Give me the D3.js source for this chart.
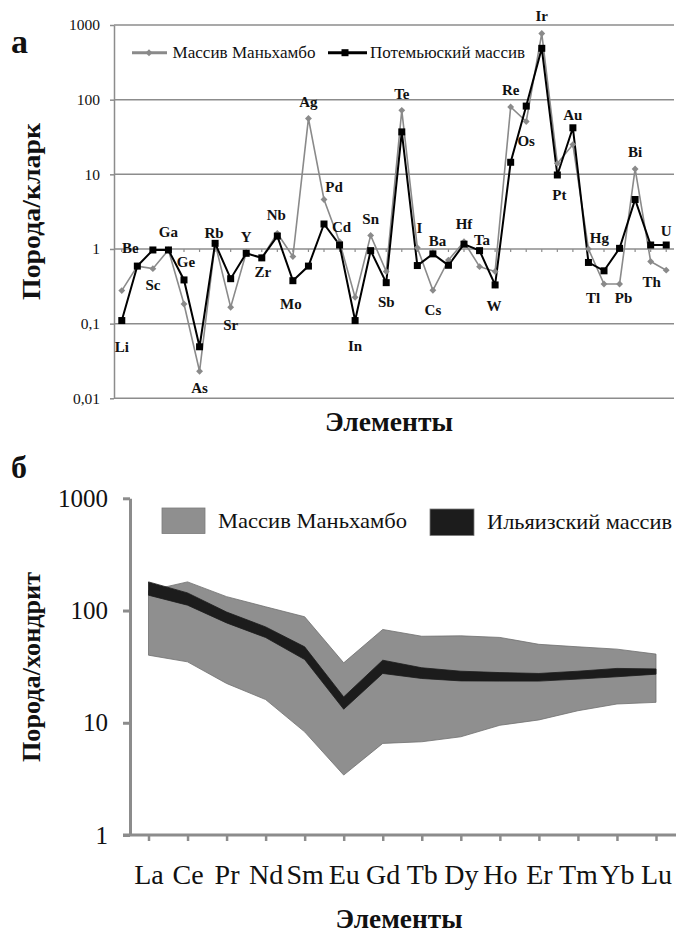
<!DOCTYPE html>
<html><head><meta charset="utf-8">
<script src="https://cdn.jsdelivr.net/npm/d3@7"></script>
<style>
body{margin:0;background:#fff}
svg{display:block}
text{font-family:"Liberation Serif","Times New Roman",serif;fill:#111}
</style>
</head><body><svg id="c" width="676" height="934"></svg>
<script>
// ---------- Panel а data ----------
const elementsA = ["Li","Be","Sc","Ga","Ge","As","Rb","Sr","Y","Zr","Nb","Mo","Ag","Pd","Cd","In","Sn","Sb","Te","I","Cs","Ba","Hf","Ta","W","Re","Os","Ir","Pt","Au","Hg","Tl","Pb","Bi","Th","U"];
const manhamboA = [0.277,0.59,0.545,0.97,0.183,0.023,1.19,0.166,0.89,0.76,1.62,0.79,56,4.6,1.25,0.225,1.52,0.50,72,1.04,0.28,0.71,1.25,0.58,0.50,80,51,770,14,25,1.0,0.34,0.34,11.8,0.68,0.52];
const potemA    = [0.11,0.59,0.97,0.97,0.385,0.049,1.19,0.40,0.875,0.76,1.49,0.376,0.59,2.16,1.13,0.11,0.95,0.354,37,0.60,0.86,0.605,1.16,0.95,0.33,14.5,82,487,9.8,42,0.66,0.51,1.02,4.6,1.13,1.13];
const tickValuesA = [0.01,0.1,1,10,100,1000];
const tickLabelsA = ["0,01","0,1","1","10","100","1000"];
const seriesNamesA = ["Массив Маньхамбо","Потемьюский массив"];
// label placement: element, above/below, offset y, offset x (annotation layout)
const labelPlaceA = [
 ["Li","b",31,0],["Be","a",-12.7,-7],["Sc","b",21.3,0],["Ga","a",-12.7,0],["Ge","a",-13.3,2],
 ["As","b",21.4,0],["Rb","a",-5,-1],["Sr","b",22.7,0],["Y","a",-11,0],["Zr","b",19.3,1],
 ["Nb","a",-13.3,-1],["Mo","b",28.7,-2],["Ag","a",-11,0],["Pd","a",-7.6,10],["Cd","a",-10,2],
 ["In","b",30,0],["Sn","a",-11.3,0],["Sb","b",24,0],["Te","a",-11,0],["I","a",-14.4,2],
 ["Cs","b",25,0],["Ba","a",-14,-11],["Hf","a",-12.7,0],["Ta","a",-5.7,2.5],["W","b",25.7,-1],
 ["Re","a",-11.7,0],["Os","b",25,0],["Ir","a",-12.3,0],["Pt","b",25,2],["Au","a",-7.7,0],
 ["Hg","a",-6,11],["Tl","b",19,-11],["Pb","b",19,4],["Bi","a",-12.3,0],["Th","b",26,1],["U","a",-9.3,0]
];

// ---------- Panel б data ----------
const elementsB = ["La","Ce","Pr","Nd","Sm","Eu","Gd","Tb","Dy","Ho","Er","Tm","Yb","Lu"];
const manhamboMinB = [40,34.9,22.4,16.1,8.3,3.42,6.55,6.77,7.5,9.5,10.6,12.8,14.7,15.2];
const manhamboMaxB = [150,180,133,108,88,34.2,67.8,59,59.5,57.6,50,47.5,45.3,40.9];
const ilyaMinB     = [137,111.6,77.6,57.5,36.6,13.2,27.5,24.8,23.6,23.5,23.5,24.5,25.7,27.1];
const ilyaMaxB     = [180,143.6,97,71.5,47.5,17,36.1,30.9,28.8,28,27.5,28.8,30.5,30.2];
const tickValuesB = [1,10,100,1000];
const tickLabelsB = ["1","10","100","1000"];
const seriesNamesB = ["Массив Маньхамбо","Ильяизский массив"];

const svg = d3.select("#c");
const GRID = "#8c8c8c", GRAYS = "#8a8a8a";
const fit = (sel, w) => sel.attr("textLength", w).attr("lengthAdjust", "spacingAndGlyphs");

// ================= PANEL а =================
const xA = d3.scaleBand().domain(elementsA).range([114, 674]);
const cx = d => xA(d) + xA.bandwidth()/2;
const yA = d3.scaleLog().domain([0.01, 1000]).range([398.3, 25]);
const gA = svg.append("g");

gA.selectAll("line.grid").data(tickValuesA).join("line")
  .attr("x1",114).attr("x2",674).attr("y1",d=>yA(d)).attr("y2",d=>yA(d))
  .attr("stroke",GRID).attr("stroke-width",1.5);

const axA = gA.append("g").attr("transform","translate(114,0)")
  .call(d3.axisLeft(yA).tickValues(tickValuesA).tickFormat((d,i)=>tickLabelsA[i]).tickSize(4).tickSizeOuter(0).tickPadding(10));
axA.select(".domain").attr("stroke",GRID).attr("stroke-width",1.5);
axA.selectAll(".tick line").attr("stroke",GRID).attr("stroke-width",1.5);
axA.selectAll(".tick text").attr("font-size",15.5).attr("font-family",null).attr("fill","#222");

const axXA = gA.append("g").attr("transform",`translate(0,${yA(1)})`)
  .call(d3.axisBottom(xA).tickSize(3).tickFormat(""));
axXA.select(".domain").remove();
axXA.selectAll(".tick line").attr("stroke",GRID).attr("stroke-width",1.2);

const lineA = d3.line().x((d,i)=>cx(elementsA[i])).y(d=>yA(d));
gA.append("path").datum(manhamboA).attr("d",lineA).attr("fill","none").attr("stroke",GRAYS).attr("stroke-width",1.6);
gA.append("path").datum(potemA).attr("d",lineA).attr("fill","none").attr("stroke","#000").attr("stroke-width",2);
const diamond = d3.symbol().type(d3.symbolDiamond2).size(30);
gA.selectAll("path.dm").data(manhamboA).join("path").attr("class","dm")
  .attr("d",diamond).attr("transform",(d,i)=>`translate(${cx(elementsA[i])},${yA(d)})`).attr("fill",GRAYS);
gA.selectAll("rect.sq").data(potemA).join("rect").attr("class","sq")
  .attr("x",(d,i)=>cx(elementsA[i])-3.5).attr("y",d=>yA(d)-3.5).attr("width",7).attr("height",7).attr("fill","#000");

gA.selectAll("text.el").data(labelPlaceA).join("text").attr("class","el")
  .attr("x",d=>cx(d[0])+d[3])
  .attr("y",d=>{const i=elementsA.indexOf(d[0]);const a=yA(manhamboA[i]),b=yA(potemA[i]);
     return (d[1]==="a"?Math.min(a,b):Math.max(a,b))+d[2];})
  .attr("text-anchor","middle").attr("font-size",15).attr("font-weight","bold").text(d=>d[0]);

const legA = gA.append("g");
legA.append("line").attr("x1",132).attr("x2",167).attr("y1",52.7).attr("y2",52.7).attr("stroke",GRAYS).attr("stroke-width",3);
legA.append("path").attr("d",diamond).attr("transform","translate(149,52.7)").attr("fill",GRAYS);
fit(legA.append("text").attr("x",172.5).attr("y",58).attr("font-size",17).text(seriesNamesA[0]), 143);
legA.append("line").attr("x1",328).attr("x2",367).attr("y1",52.7).attr("y2",52.7).attr("stroke","#000").attr("stroke-width",3);
legA.append("rect").attr("x",341.5).attr("y",49.2).attr("width",7).attr("height",7).attr("fill","#000");
fit(legA.append("text").attr("x",370).attr("y",58).attr("font-size",17).text(seriesNamesA[1]), 155);

gA.append("text").attr("x",11).attr("y",53).attr("font-size",34).attr("font-weight","bold").text("а");
fit(gA.append("text").attr("transform","translate(40,211.5) rotate(-90)").attr("text-anchor","middle")
  .attr("font-size",26).attr("font-weight","bold").text("Порода/кларк"), 177);
fit(gA.append("text").attr("x",389).attr("y",431).attr("text-anchor","middle")
  .attr("font-size",28).attr("font-weight","bold").text("Элементы"), 128);

// ================= PANEL б =================
const xB = d3.scalePoint().domain(elementsB).range([148.5, 656]);
const yB = d3.scaleLog().domain([1, 1000]).range([835, 498.3]);
const gB = svg.append("g");

const areaMan = d3.area().x((d,i)=>xB(elementsB[i])).y0((d,i)=>yB(manhamboMinB[i])).y1((d,i)=>yB(manhamboMaxB[i]));
gB.append("path").datum(manhamboMinB).attr("d",areaMan).attr("fill","#8f8f8f").attr("stroke","#707070").attr("stroke-width",0.8);
const areaIl = d3.area().x((d,i)=>xB(elementsB[i])).y0((d,i)=>yB(ilyaMinB[i])).y1((d,i)=>yB(ilyaMaxB[i]));
gB.append("path").datum(ilyaMinB).attr("d",areaIl).attr("fill","#1c1c1c").attr("stroke","#1c1c1c").attr("stroke-width",0.8);

const axB = gB.append("g").attr("transform","translate(130,0)")
  .call(d3.axisLeft(yB).tickValues(tickValuesB).tickFormat((d,i)=>tickLabelsB[i]).tickSize(7).tickSizeOuter(0).tickPadding(15));
axB.select(".domain").attr("stroke",GRID).attr("stroke-width",3);
axB.selectAll(".tick line").attr("stroke",GRID).attr("stroke-width",3);
axB.selectAll(".tick text").attr("font-size",25).attr("font-family",null).attr("fill","#111");

gB.append("line").attr("x1",123).attr("x2",676).attr("y1",yB(1)).attr("y2",yB(1)).attr("stroke",GRID).attr("stroke-width",3);
const axXB = gB.append("g").attr("transform",`translate(0,${yB(1)})`)
  .call(d3.axisBottom(xB).tickSize(6).tickPadding(23));
axXB.select(".domain").remove();
axXB.selectAll(".tick line").attr("stroke",GRID).attr("stroke-width",2.5);
axXB.selectAll(".tick text").attr("font-size",28).attr("font-family",null).attr("fill","#111");

gB.append("rect").attr("x",162).attr("y",508).attr("width",43).attr("height",25.5).attr("fill","#8f8f8f").attr("stroke","#7a7a7a").attr("stroke-width",0.8);
fit(gB.append("text").attr("x",218).attr("y",528).attr("font-size",22).text(seriesNamesB[0]), 189);
gB.append("rect").attr("x",430).attr("y",509).attr("width",44).attr("height",26.5).attr("fill","#1c1c1c").attr("stroke","#7a7a7a").attr("stroke-width",0.8);
fit(gB.append("text").attr("x",487).attr("y",529).attr("font-size",22).text(seriesNamesB[1]), 185);

gB.append("text").attr("x",11).attr("y",478).attr("font-size",32).attr("font-weight","bold").text("б");
fit(gB.append("text").attr("transform","translate(40,667) rotate(-90)").attr("text-anchor","middle")
  .attr("font-size",26).attr("font-weight","bold").text("Порода/хондрит"), 190);
fit(gB.append("text").attr("x",399).attr("y",928).attr("text-anchor","middle")
  .attr("font-size",27).attr("font-weight","bold").text("Элементы"), 127);
</script>
</body></html>
